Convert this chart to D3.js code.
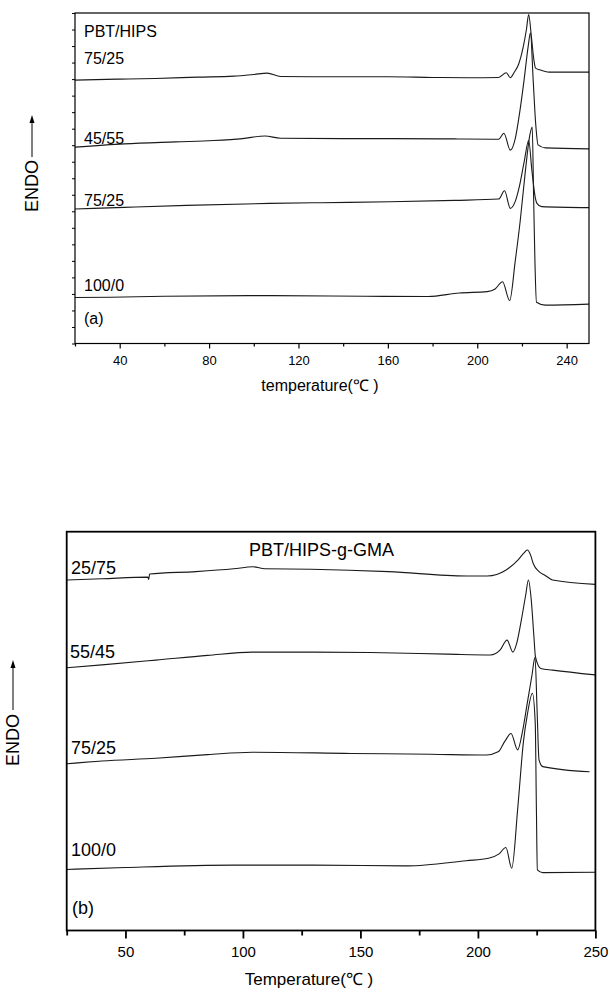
<!DOCTYPE html>
<html>
<head>
<meta charset="utf-8">
<script src="https://cdn.jsdelivr.net/npm/d3@7"></script>
<style>
  body { margin: 0; background: #fff; }
  svg { display: block; font-family: 'Liberation Sans', Arial, sans-serif; }
  .curve { fill: none; stroke: #1a1a1a; stroke-width: 1.1; }
  .frame { fill: none; stroke: #000; }
  .tick line { stroke: #000; }
  .tick text { fill: #000; }
</style>
</head>
<body>
<div id="chart"></div>
<script>
/**
 * DSC heating curves - PBT/HIPS blends (a) and PBT/HIPS-g-GMA blends (b)
 */

// Panel (a): PBT/HIPS, [temperature °C, heat flow (arbitrary, stacked)]
const a_75_25_top = [[20,79.7],[40,80.0],[56,80.2],[75,80.6],[91,80.9],[100,81.4],[106,81.8],[112,80.8],[130,80.7],[160,80.7],[180,80.5],[196,80.4],[209.5,80.5],[213,81.9],[214.8,80.4],[216.5,82.0],[218.5,84.5],[220.5,89.5],[222,95.0],[223,99.5],[224.2,93.0],[225.3,86.0],[226.1,83.3],[227.9,82.8],[232.2,82.1],[250,82.1]];
const a_45_55 = [[20,59.4],[42,60.4],[65,61.0],[82,61.4],[95,62.0],[105,62.8],[112,62.1],[140,62.0],[161,62.0],[190,61.9],[209.6,61.8],[211.9,63.6],[214.8,58.5],[217,62.0],[219,70.0],[221,80.0],[222.8,90.0],[223.8,94.0],[225,80.0],[226.2,66.0],[227.2,60.1],[230.5,59.2],[250,58.9]];
const a_75_25 = [[20,40.7],[42,41.2],[70,41.8],[107,42.4],[130,42.6],[161,42.9],[190,43.3],[209.6,43.7],[212.2,46.2],[214.8,40.9],[217,43.0],[219,48.0],[221,55.0],[223,61.4],[224.5,52.0],[226,44.0],[226.7,42.4],[228.8,41.4],[250,41.1]];
const a_100_0 = [[20,13.9],[36,14.0],[60,14.3],[108,14.5],[150,14.3],[178,14.2],[192,15.3],[204.4,15.7],[208,16.5],[211.3,18.7],[214.5,13.0],[217,25.0],[219.2,37.0],[221.5,52.0],[223.5,63.0],[224.6,65.5],[225.2,45.0],[225.8,25.0],[226.5,12.5],[230.5,11.6],[250,11.9]];

// Panel (b): PBT/HIPS-g-GMA
const b_25_75 = [[25,87.9],[40,88.2],[59.6,88.6],[59.9,88.0],[60.3,89.4],[80,90.0],[96,90.7],[104.3,91.2],[109.3,90.7],[129,90.6],[162,90.0],[195,88.9],[204,88.9],[212,90.4],[217,92.9],[219.5,94.6],[221,95.4],[222.5,94.0],[223.5,92.1],[226,90.0],[228.5,89.1],[231.8,87.9],[250,86.8]];
const b_55_45 = [[25,65.9],[40,66.6],[63,67.8],[85,69.0],[104,69.8],[130,69.8],[154,69.7],[187,69.3],[205.3,69.1],[209.4,70.3],[212.4,72.8],[214.9,69.8],[216.5,72.0],[218.5,77.9],[220.3,84.0],[221.5,87.9],[222.7,82.9],[223.8,74.0],[224.5,68.6],[226.8,65.7],[231.8,65.3],[250,64.1]];
const b_75_25 = [[25,41.8],[40,42.5],[63,43.2],[85,44.1],[104,44.7],[146,44.4],[180,44.2],[203.6,44.0],[208.6,44.8],[211.5,47.5],[214.1,49.4],[216.9,45.3],[219,50.0],[221,57.0],[223,64.0],[224.3,68.5],[225.2,55.0],[226,42.8],[227.6,41.1],[247.5,39.8]];
const b_100_0 = [[25,15.3],[50,15.8],[96,16.4],[130,16.4],[170,16.2],[195,17.5],[204.5,18.1],[209,19.2],[211.9,20.8],[214.4,15.6],[217,31.0],[219.4,47.5],[221,54.0],[223.2,59.5],[224.4,52.0],[224.9,30.0],[225.3,15.2],[227.6,14.5],[250,14.6]];

// Axis ticks
const aMajorTicks = [40, 80, 120, 160, 200, 240];
const aMinorTicks = [20, 60, 100, 140, 180, 220];
const bMajorTicks = [50, 100, 150, 200, 250];
const bMinorTicks = [25, 75, 125, 175, 225];

// Curve labels (ratio text sits just above each trace)
const aLabels = ['75/25', '45/55', '75/25', '100/0'];
const bLabels = ['25/75', '55/45', '75/25', '100/0'];

const width = 610;
const height = 994;

const svg = d3.select('#chart').append('svg')
  .attr('width', width)
  .attr('height', height);

/**
 * Draw one DSC panel
 */
function drawPanel(cfg) {
  const g = svg.append('g');

  const x = d3.scaleLinear().domain(cfg.xDomain).range([cfg.left, cfg.right]);
  const y = d3.scaleLinear().domain([0, 100]).range([cfg.bottom, cfg.top]);

  const line = d3.line()
    .x(d => x(d[0]))
    .y(d => y(d[1]))
    .curve(d3.curveMonotoneX);

  cfg.series.forEach(s => {
    g.append('path')
      .attr('class', 'curve')
      .attr('d', line(s));
  });

  // Frame
  g.append('rect')
    .attr('class', 'frame')
    .attr('x', cfg.left)
    .attr('y', cfg.top)
    .attr('width', cfg.right - cfg.left)
    .attr('height', cfg.bottom - cfg.top)
    .attr('stroke-width', cfg.frameWidth);

  // Bottom axis: major with labels, minor without
  const major = g.append('g')
    .attr('transform', `translate(0, ${cfg.bottom})`)
    .call(d3.axisBottom(x)
      .tickValues(cfg.major)
      .tickSize(cfg.majorLen)
      .tickPadding(cfg.tickPad)
      .tickFormat(d3.format('d')));
  major.select('.domain').remove();
  major.selectAll('.tick line').attr('stroke-width', cfg.frameWidth);
  major.selectAll('.tick text')
    .attr('font-size', cfg.tickFont)
    .attr('font-family', "'Liberation Sans', Arial, sans-serif");

  const minor = g.append('g')
    .attr('transform', `translate(0, ${cfg.bottom})`)
    .call(d3.axisBottom(x)
      .tickValues(cfg.minor)
      .tickSize(cfg.minorLen)
      .tickFormat(''));
  minor.select('.domain').remove();
  minor.selectAll('.tick line').attr('stroke-width', cfg.frameWidth);

  if (cfg.yTicks) {
    const yAx = g.append('g')
      .attr('transform', `translate(${cfg.left}, 0)`)
      .call(d3.axisLeft(y).tickValues(d3.range(0, 101, 5)).tickSize(3).tickFormat(''));
    yAx.select('.domain').remove();
  }

  // Axis title
  g.append('text')
    .attr('x', cfg.xTitleX)
    .attr('y', cfg.xTitleY)
    .attr('text-anchor', 'middle')
    .attr('font-size', cfg.xTitleFont)
    .text(cfg.xTitle);

  // ENDO label with upward arrow
  g.append('text')
    .attr('transform', `translate(${cfg.endoX}, ${cfg.endoY}) rotate(-90)`)
    .attr('text-anchor', 'middle')
    .attr('font-size', cfg.endoFont)
    .text('ENDO');
  const ax = cfg.endoX - 6;
  g.append('line')
    .attr('x1', ax).attr('x2', ax)
    .attr('y1', cfg.arrowFrom).attr('y2', cfg.arrowTo + 6)
    .attr('stroke', '#000').attr('stroke-width', 1);
  g.append('path')
    .attr('d', `M${ax},${cfg.arrowTo} L${ax - 2.5},${cfg.arrowTo + 8} L${ax + 2.5},${cfg.arrowTo + 8} Z`)
    .attr('fill', '#000');

  // Text annotations
  cfg.texts.forEach(t => {
    g.append('text')
      .attr('x', t.x)
      .attr('y', t.y)
      .attr('font-size', t.size)
      .text(t.text);
  });
}

drawPanel({
  xDomain: [20, 250],
  left: 75, right: 589, top: 13, bottom: 343.5,
  frameWidth: 1.2,
  series: [a_75_25_top, a_45_55, a_75_25, a_100_0],
  major: aMajorTicks, minor: aMinorTicks,
  majorLen: 5, minorLen: 3, tickPad: 7, tickFont: 13,
  yTicks: true,
  xTitle: 'temperature(\u2103 )', xTitleX: 320, xTitleY: 391, xTitleFont: 16,
  endoX: 38, endoY: 186, endoFont: 18, arrowFrom: 157, arrowTo: 115,
  texts: [
    { text: 'PBT/HIPS', x: 84, y: 37, size: 16 },
    { text: aLabels[0], x: 84, y: 64, size: 16 },
    { text: aLabels[1], x: 84, y: 144, size: 16 },
    { text: aLabels[2], x: 84, y: 206, size: 16 },
    { text: aLabels[3], x: 84, y: 291, size: 16 },
    { text: '(a)', x: 84, y: 324, size: 16 }
  ]
});

drawPanel({
  xDomain: [25, 250],
  left: 66.7, right: 595.4, top: 531.7, bottom: 930.5,
  frameWidth: 1.8,
  series: [b_25_75, b_55_45, b_75_25, b_100_0],
  major: bMajorTicks, minor: bMinorTicks,
  majorLen: 8, minorLen: 5, tickPad: 8, tickFont: 15,
  yTicks: false,
  xTitle: 'Temperature(\u2103 )', xTitleX: 309, xTitleY: 985, xTitleFont: 17,
  endoX: 19, endoY: 740, endoFont: 18, arrowFrom: 710, arrowTo: 660,
  texts: [
    { text: 'PBT/HIPS-g-GMA', x: 249, y: 556, size: 18 },
    { text: bLabels[0], x: 71, y: 574, size: 18 },
    { text: bLabels[1], x: 70, y: 658, size: 18 },
    { text: bLabels[2], x: 71, y: 754, size: 18 },
    { text: bLabels[3], x: 71, y: 856, size: 18 },
    { text: '(b)', x: 72, y: 914, size: 18 }
  ]
});
</script>
</body>
</html>
